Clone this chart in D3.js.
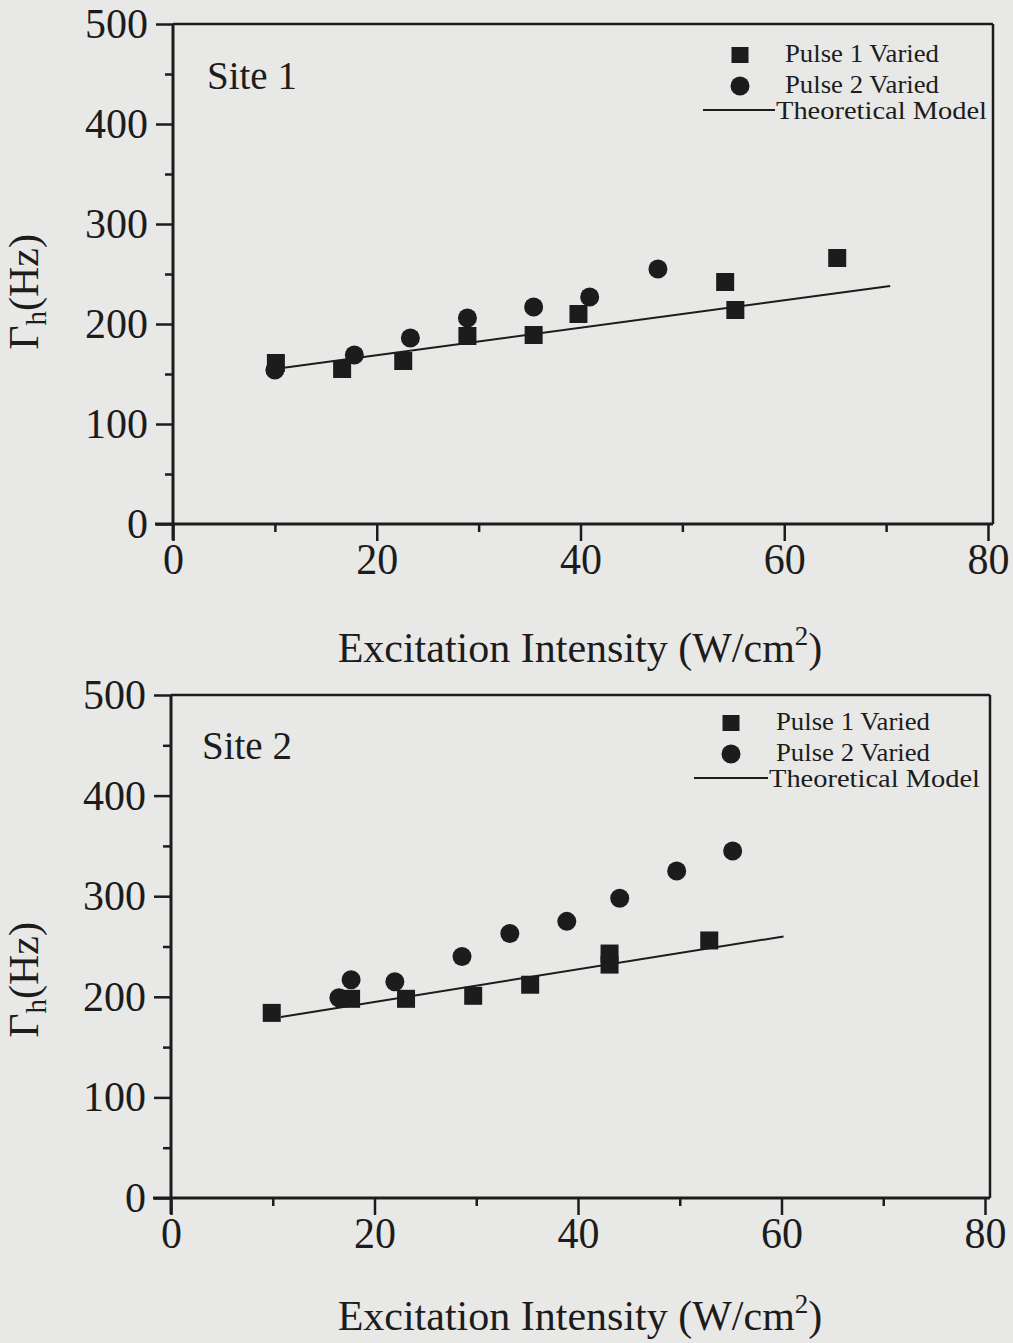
<!DOCTYPE html>
<html>
<head>
<meta charset="utf-8">
<script src="https://cdn.jsdelivr.net/npm/d3@7"></script>
<style>
  html, body { margin: 0; padding: 0; background: #e8e8e7; }
  svg { display: block; }
  text { font-family: "Liberation Serif", "Times New Roman", Times, serif; fill: #1c1c1c; }
</style>
</head>
<body>
<svg id="chart" width="1013" height="1343"></svg>
<script>
// ---------- data ----------
const xTicks = [0, 20, 40, 60, 80];
const xMinorTicks = [10, 30, 50, 70];
const yTicks = [0, 100, 200, 300, 400, 500];
const yMinorTicks = [50, 150, 250, 350, 450];
const seriesNames = ["Pulse 1 Varied", "Pulse 2 Varied", "Theoretical Model"];
const siteNames = ["Site 1", "Site 2"];

const site1Pulse1X = [10.1, 16.6, 22.6, 28.9, 35.4, 39.8, 54.2, 55.2, 65.2];
const site1Pulse1Y = [161, 155, 163, 188, 189, 210, 242, 214, 266];
const site1Pulse2X = [10.0, 17.8, 23.3, 28.9, 35.4, 40.9, 47.6];
const site1Pulse2Y = [154, 169, 186, 206, 217, 227, 255];
const site1ModelX = [10.7, 70.4];
const site1ModelY = [156, 238];

const site2Pulse1X = [9.9, 17.7, 23.1, 29.7, 35.3, 43.1, 43.1, 52.9];
const site2Pulse1Y = [184, 198, 198, 201, 212, 243, 232, 256];
const site2Pulse2X = [16.5, 17.7, 22.0, 28.6, 33.3, 38.9, 44.1, 49.7, 55.2];
const site2Pulse2Y = [199, 217, 215, 240, 263, 275, 298, 325, 345];
const site2ModelX = [10.8, 60.2];
const site2ModelY = [180, 260];

// ---------- layout ----------
const ink = "#1c1c1c";
const svg = d3.select("#chart");

const panels = [
  { name: siteNames[0], p1x: site1Pulse1X, p1y: site1Pulse1Y, p2x: site1Pulse2X, p2y: site1Pulse2Y, mx: site1ModelX, my: site1ModelY,
    left: 173, right: 988, top: 24, bottom: 524, siteX: 207, siteBase: 89, legX: 740, legY: 55, legLine: [703, 775], titleBase: 662, yTitleCy: 292 },
  { name: siteNames[1], p1x: site2Pulse1X, p1y: site2Pulse1Y, p2x: site2Pulse2X, p2y: site2Pulse2Y, mx: site2ModelX, my: site2ModelY,
    left: 171, right: 985, top: 695, bottom: 1198, siteX: 202, siteBase: 759, legX: 731, legY: 723, legLine: [694, 768], titleBase: 1330, yTitleCy: 980 }
];

panels.forEach(p => {
  const x = d3.scaleLinear().domain([0, 80]).range([p.left, p.right]);
  const y = d3.scaleLinear().domain([0, 500]).range([p.bottom, p.top]);
  const g = svg.append("g");

  // frame (top and right)
  g.append("line").attr("x1", x(0)).attr("x2", x(80) + 5).attr("y1", y(500)).attr("y2", y(500))
    .attr("stroke", ink).attr("stroke-width", 2.5);
  g.append("line").attr("x1", x(80) + 5).attr("x2", x(80) + 5).attr("y1", y(500)).attr("y2", y(0))
    .attr("stroke", ink).attr("stroke-width", 2.5);

  // x axis
  const xAxis = g.append("g").attr("transform", `translate(0,${y(0)})`)
    .call(d3.axisBottom(x).tickValues(xTicks).tickSize(17).tickPadding(1).tickFormat(d3.format("d")));
  const xMinor = g.append("g").attr("transform", `translate(0,${y(0)})`)
    .call(d3.axisBottom(x).tickValues(xMinorTicks).tickSize(8).tickFormat(""));
  xMinor.select(".domain").remove();
  xAxis.select(".domain").attr("d", `M${x(0) - 18},0H${x(80) + 5}`);
  [xAxis, xMinor].forEach(a => {
    a.selectAll("line").attr("stroke", ink).attr("stroke-width", 2.5);
    a.selectAll("path").attr("stroke", ink).attr("stroke-width", 3);
  });
  xAxis.selectAll(".tick text").attr("font-size", 45).attr("fill", ink)
    .attr("textLength", d => String(d).length * 21).attr("lengthAdjust", "spacingAndGlyphs");

  // y axis
  const yAxis = g.append("g").attr("transform", `translate(${x(0)},0)`)
    .call(d3.axisLeft(y).tickValues(yTicks).tickSize(17).tickPadding(8).tickFormat(d3.format("d")));
  const yMinor = g.append("g").attr("transform", `translate(${x(0)},0)`)
    .call(d3.axisLeft(y).tickValues(yMinorTicks).tickSize(8).tickFormat(""));
  yMinor.select(".domain").remove();
  yAxis.select(".domain").attr("d", `M0,${y(500)}V${y(0) + 16}`);
  [yAxis, yMinor].forEach(a => {
    a.selectAll("line").attr("stroke", ink).attr("stroke-width", 2.5);
    a.selectAll("path").attr("stroke", ink).attr("stroke-width", 3);
  });
  yAxis.selectAll("text").attr("font-size", 42).attr("fill", ink);

  // model line
  const lineData = p.mx.map((v, i) => [v, p.my[i]]);
  g.append("path").datum(lineData)
    .attr("d", d3.line().x(d => x(d[0])).y(d => y(d[1])))
    .attr("fill", "none").attr("stroke", ink).attr("stroke-width", 2);

  // pulse 1 squares
  const s = 18;
  g.selectAll(".sq").data(p.p1x.map((v, i) => [v, p.p1y[i]])).join("rect")
    .attr("x", d => x(d[0]) - s / 2).attr("y", d => y(d[1]) - s / 2)
    .attr("width", s).attr("height", s).attr("fill", ink);
  // pulse 2 circles
  g.selectAll(".ci").data(p.p2x.map((v, i) => [v, p.p2y[i]])).join("circle")
    .attr("cx", d => x(d[0])).attr("cy", d => y(d[1])).attr("r", 9.5).attr("fill", ink);

  // site label
  g.append("text").attr("x", p.siteX).attr("y", p.siteBase).attr("font-size", 39).text(p.name);

  // legend
  const lx = p.legX, ly = p.legY;
  g.append("rect").attr("x", lx - 8.5).attr("y", ly - 8).attr("width", 17).attr("height", 16).attr("fill", ink);
  g.append("text").attr("x", lx + 45).attr("y", ly + 7).attr("font-size", 25)
    .attr("textLength", 154).attr("lengthAdjust", "spacingAndGlyphs").text(seriesNames[0]);
  g.append("circle").attr("cx", lx).attr("cy", ly + 31).attr("r", 9.5).attr("fill", ink);
  g.append("text").attr("x", lx + 45).attr("y", ly + 38).attr("font-size", 25)
    .attr("textLength", 154).attr("lengthAdjust", "spacingAndGlyphs").text(seriesNames[1]);
  g.append("line").attr("x1", p.legLine[0]).attr("x2", p.legLine[1]).attr("y1", ly + 55).attr("y2", ly + 55)
    .attr("stroke", ink).attr("stroke-width", 2);
  g.append("text").attr("x", p.legLine[1] + 1).attr("y", ly + 64).attr("font-size", 25)
    .attr("textLength", 211).attr("lengthAdjust", "spacingAndGlyphs").text(seriesNames[2]);

  // x title
  const xt = g.append("text").attr("x", 580).attr("y", p.titleBase).attr("font-size", 42)
    .attr("text-anchor", "middle");
  xt.append("tspan").text("Excitation Intensity (W/cm");
  xt.append("tspan").attr("font-size", 27).attr("dy", -17).text("2");
  xt.append("tspan").attr("dy", 17).text(")");

  // y title
  const yt = g.append("text").attr("transform", `translate(38,${p.yTitleCy}) rotate(-90)`)
    .attr("font-size", 42).attr("text-anchor", "middle");
  yt.append("tspan").text("Γ");
  yt.append("tspan").attr("font-size", 29).attr("dy", 8).text("h");
  yt.append("tspan").attr("dy", -8).text("(Hz)");
});
</script>
</body>
</html>
